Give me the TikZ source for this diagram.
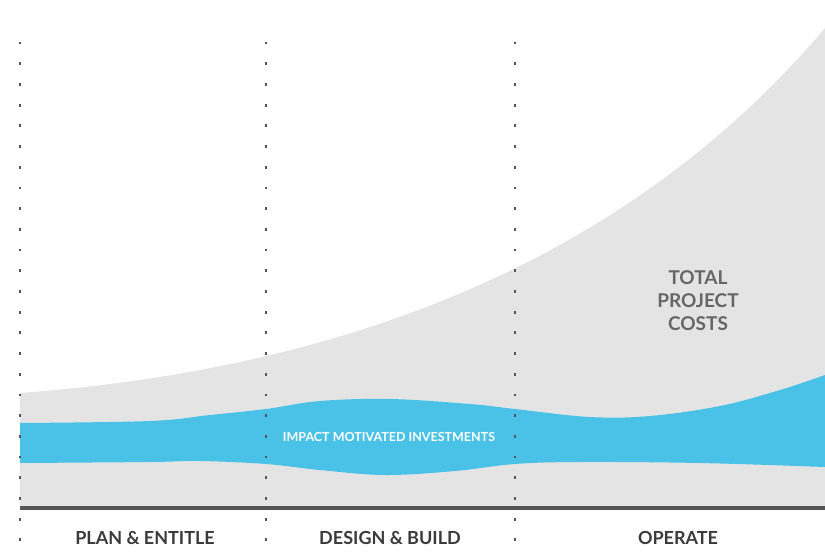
\documentclass[tikz,border=0pt]{standalone}
\usepackage{fontspec}
\setmainfont{Lato}
\definecolor{costgray}{HTML}{E4E4E4}
\definecolor{impactblue}{HTML}{4AC2E8}
\definecolor{dotgray}{HTML}{555555}
\definecolor{basegray}{HTML}{555555}
\definecolor{labeltext}{HTML}{3A3A3A}
\definecolor{costtext}{HTML}{666666}
\tikzset{
  phaselabel/.style={text=labeltext, font=\fontsize{18}{20}\selectfont\bfseries, inner sep=0pt},
  costlabel/.style={text=costtext, font=\fontsize{19}{23}\selectfont\bfseries, align=center, inner sep=0pt},
  impactlabel/.style={text=white, font=\fontsize{12.5}{14}\selectfont\bfseries, inner sep=0pt},
  phasedot/.style={fill=dotgray},
}
\begin{document}
\begin{tikzpicture}[x=1pt,y=-1pt]
\useasboundingbox (0,0) rectangle (825,555);
% total project costs area
\fill[costgray] (20,506) -- (20,393)
  .. controls (330,370) and (620,270) .. (825,28)
  -- (825,506) -- cycle;
% impact motivated investments band
\fill[impactblue] plot[smooth, tension=0.6] coordinates {(20,423) (150,421) (210,415) (266,409) (320,401) (390,399) (470,404) (515,409) (590,417) (650,416) (720,406) (780,390) (825,375)}
  -- plot[smooth, tension=0.6] coordinates {(825,467) (700,463) (580,462) (515,464) (455,471) (385,475) (320,470) (266,464) (200,461) (150,462) (20,463)}
  -- cycle;
% baseline
\fill[basegray] (20,506) rectangle (825,510);
% phase separators
\foreach \x in {20,266,515}{
  \foreach \i in {0,...,24}{
    \fill[phasedot] ({\x-0.7},{43+20.7*\i-1.4}) rectangle ++(1.4,2.8);
  }
}
% labels
\node[impactlabel] (impact) at (389,437) {IMPACT MOTIVATED INVESTMENTS};
\node[costlabel] (costs) at (698,301) {TOTAL\\PROJECT\\COSTS};
\node[phaselabel] (plan) at (145,538) {PLAN \& ENTITLE};
\node[phaselabel] (design) at (390,538) {DESIGN \& BUILD};
\node[phaselabel] (operate) at (678,538) {OPERATE};
\end{tikzpicture}
\end{document}
